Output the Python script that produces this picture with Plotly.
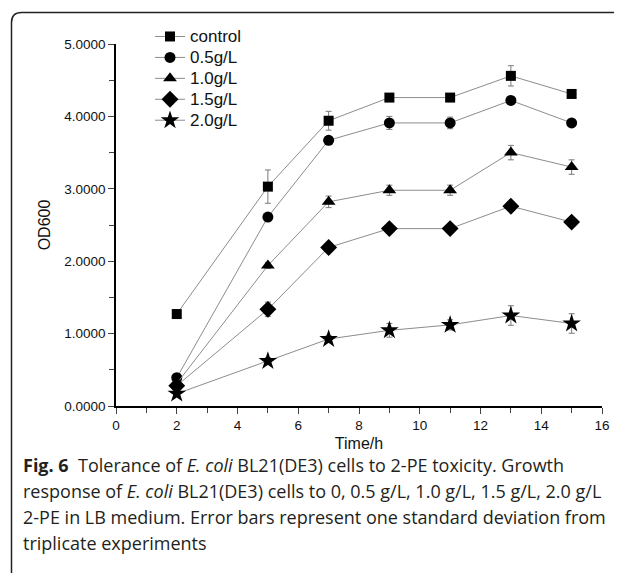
import plotly.graph_objects as go

time_h = [2, 5, 7, 9, 11, 13, 15]
series_names = ["control", "0.5g/L", "1.0g/L", "1.5g/L", "2.0g/L"]
od_control = [1.27, 3.03, 3.94, 4.26, 4.26, 4.56, 4.31]
od_05 = [0.39, 2.61, 3.67, 3.91, 3.91, 4.22, 3.91]
od_10 = [0.31, 1.94, 2.82, 2.98, 2.98, 3.50, 3.30]
od_15 = [0.28, 1.335, 2.19, 2.45, 2.45, 2.76, 2.54]
od_20 = [0.17, 0.62, 0.925, 1.045, 1.12, 1.25, 1.14]
err_control = [0.02, 0.23, 0.13, 0.05, 0.05, 0.14, 0.03]
err_05 = [0.02, 0.04, 0.04, 0.09, 0.08, 0.04, 0.03]
err_10 = [0.02, 0.04, 0.08, 0.07, 0.07, 0.10, 0.10]
err_15 = [0.02, 0.10, 0.05, 0.04, 0.04, 0.04, 0.03]
err_20 = [0.02, 0.05, 0.05, 0.095, 0.07, 0.135, 0.135]
y_ticks = [0, 1, 2, 3, 4, 5]
x_ticks = [0, 2, 4, 6, 8, 10, 12, 14, 16]

values = [od_control, od_05, od_10, od_15, od_20]
errors = [err_control, err_05, err_10, err_15, err_20]
symbols = ["square", "circle", "triangle-up", "diamond", "star"]
sizes = [10, 11, 12, 13, 14]

# the page body has an 8px margin: the figure starts at (8, 8) in the window
OFF = 8
WIN_W, WIN_H = 622, 573
W, H = WIN_W - OFF, WIN_H - OFF
# plot area in window pixels: x 116..602, y 44..406
PL, PR, PT, PB = 116, 602, 44, 406
L, R, T, B = PL - OFF, W - (PR - OFF), PT - OFF, H - (PB - OFF)
pw, ph = W - L - R, H - T - B


def px(x):  # window pixel -> paper x
    return (x - OFF - L) / pw


def py(y):  # window pixel -> paper y
    return (H - B - (y - OFF)) / ph


FAM = "Liberation Sans, Arial, sans-serif"

fig = go.Figure()
for name, v, e, s, sz in zip(series_names, values, errors, symbols, sizes):
    fig.add_trace(go.Scatter(
        x=time_h, y=v, mode="lines+markers",
        name=f'<span style="font-size:17px">{name}</span>',
        line=dict(color="#8c8c8c", width=1),
        marker=dict(symbol=s, size=sz, color="black", line=dict(width=0)),
        error_y=dict(type="data", array=e, visible=True, color="#7a7a7a",
                     thickness=1, width=3),
    ))

axis_font = dict(family=FAM, size=13.5, color="#111")
title_font = dict(family=FAM, size=16, color="#111")
fig.update_layout(
    width=W, height=H,
    margin=dict(l=L, r=R, t=T, b=B),
    paper_bgcolor="white", plot_bgcolor="white",
    showlegend=True,
    legend=dict(x=px(150), y=py(21), xanchor="left", yanchor="top",
                bgcolor="rgba(0,0,0,0)", tracegroupgap=0,
                font=dict(family=FAM, size=13.8, color="#111")),
    xaxis=dict(range=[0, 16], tickvals=x_ticks, ticks="outside", ticklen=6,
               tickwidth=1.2, showline=True, linecolor="black", linewidth=1.5,
               showgrid=False, zeroline=False, tickfont=axis_font, automargin=False,
               minor=dict(dtick=1, ticks="outside", ticklen=5, tickwidth=1.2, showgrid=False),
               title=dict(text="Time/h", font=title_font, standoff=6)),
    yaxis=dict(range=[0, 5], tickvals=y_ticks, tickformat=".4f", ticks="outside", ticklen=6,
               tickwidth=1.2, showline=True, linecolor="black", linewidth=1.5,
               showgrid=False, zeroline=False, tickfont=axis_font, automargin=False,
               minor=dict(dtick=0.5, ticks="outside", ticklen=5, tickwidth=1.2, showgrid=False),
               title=dict(text="OD600", font=title_font, standoff=10)),
)

# frame with rounded top-left corner
r = 10
x0, y0 = 11.5, 12.5
path = (f"M {px(x0)},{py(WIN_H + 5)} L {px(x0)},{py(y0 + r)} "
        f"Q {px(x0)},{py(y0)} {px(x0 + r)},{py(y0)} L {px(WIN_W + 5)},{py(y0)}")
fig.add_shape(type="path", path=path, xref="paper", yref="paper",
              line=dict(color="#222", width=1.5), layer="above")

cap_font = dict(family="Open Sans, Noto Sans, sans-serif", size=18, color="#231f20")
lines = [
    "<b>Fig.\u00a06</b>\u00a0\u00a0Tolerance of <i>E. coli</i> BL21(DE3) cells to 2-PE toxicity. Growth",
    "response of <i>E. coli</i> BL21(DE3) cells to 0, 0.5 g/L, 1.0 g/L, 1.5 g/L, 2.0 g/L",
    "2-PE in LB medium. Error bars represent one standard deviation from",
    "triplicate experiments",
]
for i, t in enumerate(lines):
    fig.add_annotation(text=t, x=px(21), y=py(465 + 26 * i), xref="paper", yref="paper",
                       xanchor="left", yanchor="middle", showarrow=False, font=cap_font)

fig.write_html("out.html")
